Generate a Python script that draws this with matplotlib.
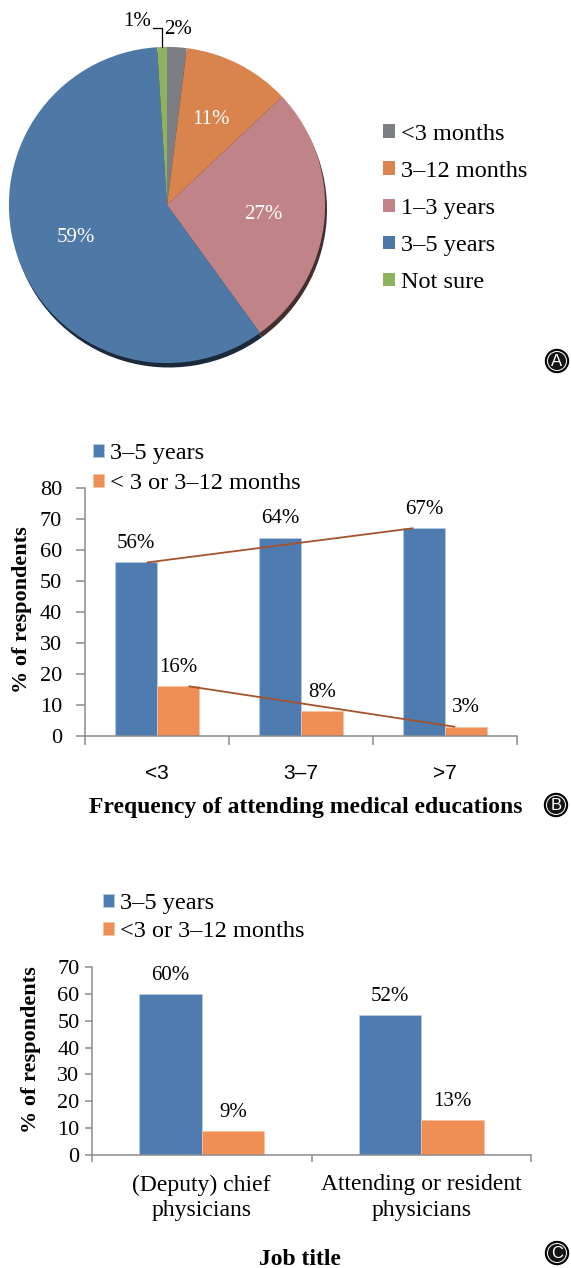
import numpy as np
import matplotlib.pyplot as plt
from matplotlib.patches import Circle

plt.rcParams['font.family'] = ['Liberation Serif', 'DejaVu Serif']

# Panel A: expected duration (share of respondents, %)
duration_labels = ['<3 months', '3–12 months', '1–3 years', '3–5 years', 'Not sure']
duration_share = [2, 11, 27, 59, 1]
duration_colors = ['#7b7e83', '#d9834d', '#c08488', '#4e78a6', '#8fb25e']

# Panel B: by frequency of attending medical educations
freq_categories = ['<3', '3–7', '>7']
freq_long = [56, 64, 67]
freq_short = [16, 8, 3]

# Panel C: by job title
job_categories = ['(Deputy) chief\nphysicians', 'Attending or resident\nphysicians']
job_long = [60, 52]
job_short = [9, 13]

BLUE = '#4e7bb0'
ORANGE = '#ef8f55'
GREY = '#8c8c8c'
TREND = '#a4532c'

W, H = 571, 1268
fig = plt.figure(figsize=(W / 100, H / 100), dpi=100)


def px_axes(left, top, right, bottom):
    return fig.add_axes([left / W, 1 - bottom / H, (right - left) / W, (bottom - top) / H])


# ---- A: pie ----
ax_a = px_axes(1, 39, 333, 371)
dark = [tuple(0.35 * c for c in plt.matplotlib.colors.to_rgb(col)) for col in duration_colors]
ax_a.pie(duration_share, colors=dark, startangle=90, counterclock=False,
         center=(0.012, -0.028), wedgeprops=dict(linewidth=0))
wedges, _ = ax_a.pie(duration_share, colors=duration_colors, startangle=90,
                     counterclock=False, wedgeprops=dict(linewidth=0))
ax_a.set_xlim(-1.05, 1.05)
ax_a.set_ylim(-1.05, 1.05)
ax_a.axis('off')

for wdg, val in zip(wedges, duration_share):
    mid = np.deg2rad((wdg.theta1 + wdg.theta2) / 2)
    if val >= 10:
        r = 0.61
        ax_a.text(r * np.cos(mid), r * np.sin(mid), f'{val}%', color='white',
                  fontsize=15, ha='center', va='center')
    elif val >= 2:
        r = 1.11
        ax_a.text(r * np.cos(mid), r * np.sin(mid), f'{val}%', color='black',
                  fontsize=15, ha='center', va='center')
    else:
        x0, y0 = np.cos(mid), np.sin(mid)
        ax_a.plot([x0, x0, x0 - 0.055], [y0, 1.12, 1.12], color='black', lw=0.9,
                  clip_on=False)
        ax_a.text(x0 - 0.07, 1.16, f'{val}%', color='black', fontsize=15,
                  ha='right', va='center')

ax_a.legend(wedges, duration_labels, loc='upper left',
            bbox_to_anchor=(383 / W, 1 - 124 / H), bbox_transform=fig.transFigure,
            frameon=False, fontsize=17.5, handlelength=0.5, handleheight=0.5,
            handletextpad=0.25, labelspacing=0.66, borderpad=0, borderaxespad=0)


def bar_panel(ax, cats, long_vals, short_vals, width, ymax, short_name,
              xtick_font, tick_len, ypad, xpad):
    x = np.arange(len(cats))
    b1 = ax.bar(x - width / 2, long_vals, width, color=BLUE, edgecolor='#b8cbe4',
                linewidth=0.6, label='3–5 years')
    b2 = ax.bar(x + width / 2, short_vals, width, color=ORANGE, edgecolor='#f6c4a2',
                linewidth=0.6, label=short_name)
    for bars in (b1, b2):
        for rect in bars:
            v = rect.get_height()
            ax.annotate(f'{v:g}%', (rect.get_x() + rect.get_width() / 2, v),
                        xytext=(0, 13.5), textcoords='offset points',
                        ha='center', va='center', fontsize=15)
    for s in ('top', 'right'):
        ax.spines[s].set_visible(False)
    for s in ('left', 'bottom'):
        ax.spines[s].set_color(GREY)
        ax.spines[s].set_linewidth(1.1)
    ax.set_xlim(-0.5, len(cats) - 0.5)
    ax.set_ylim(0, ymax)
    ax.set_yticks(np.arange(0, ymax + 1, 10))
    ax.set_xticks(np.arange(len(cats) + 1) - 0.5)
    ax.set_xticklabels([])
    ax.set_xticks(x, minor=True)
    ax.set_xticklabels(cats, minor=True, **xtick_font)
    ax.tick_params(axis='x', which='major', length=tick_len, color=GREY, width=1.1)
    ax.tick_params(axis='x', which='minor', length=0, pad=xpad)
    ax.tick_params(axis='y', length=tick_len, color=GREY, width=1.1, pad=ypad,
                   labelsize=16)
    return x, b1, b2


# ---- B: frequency of attending medical educations ----
ax_b = px_axes(85, 488, 517, 736)
xb, b1, b2 = bar_panel(ax_b, freq_categories, freq_long, freq_short, 0.29, 80,
                       '< 3 or 3–12 months',
                       dict(fontsize=15, family='Liberation Sans'), 6.5, 10, 20)
w = 0.29
for offs, vals in ((-w / 2, freq_long), (w / 2, freq_short)):
    ax_b.plot([xb[0] + offs + 0.08, xb[-1] + offs - 0.08], [vals[0], vals[-1]],
              color=TREND, lw=1.3)
ax_b.set_ylabel('% of respondents', fontsize=16, fontweight='bold', va='center')
ax_b.yaxis.set_label_coords(-0.145, 0.508)
ax_b.set_xlabel('Frequency of attending medical educations', fontsize=17,
                fontweight='bold', va='center')
ax_b.xaxis.set_label_coords(0.512, -0.29)
ax_b.legend(loc='upper left', bbox_to_anchor=(93 / W, 1 - 443 / H),
            bbox_transform=fig.transFigure, frameon=False, fontsize=17.5,
            handlelength=0.45, handleheight=0.45, handletextpad=0.25,
            labelspacing=0.36, borderpad=0, borderaxespad=0)

# ---- C: job title ----
ax_c = px_axes(92, 967, 531, 1155)
bar_panel(ax_c, job_categories, job_long, job_short, 0.285, 70,
          '<3 or 3–12 months', dict(fontsize=17, linespacing=1.3), 5, 4, 14)
ax_c.set_ylabel('% of respondents', fontsize=16, fontweight='bold', va='center')
ax_c.yaxis.set_label_coords(-0.14, 0.56)
ax_c.set_xlabel('Job title', fontsize=17, fontweight='bold', va='center')
ax_c.xaxis.set_label_coords(0.474, -0.555)
ax_c.legend(loc='upper left', bbox_to_anchor=(103 / W, 1 - 893 / H),
            bbox_transform=fig.transFigure, frameon=False, fontsize=17.5,
            handlelength=0.45, handleheight=0.45, handletextpad=0.25,
            labelspacing=0.28, borderpad=0, borderaxespad=0)

# ---- panel letters ----
ax_o = fig.add_axes([0, 0, 1, 1])
ax_o.set_xlim(0, W)
ax_o.set_ylim(H, 0)
ax_o.axis('off')
for letter, (cx, cy) in zip('ABC', [(557, 361), (556, 805), (557, 1253)]):
    ax_o.add_patch(Circle((cx, cy), 11.5, fc='#151515', ec='black', lw=1))
    ax_o.add_patch(Circle((cx, cy), 9.5, fc='none', ec='white', lw=0.7))
    ax_o.text(cx, cy + 0.5, letter, color='white', fontsize=12, ha='center',
              va='center', family='Liberation Sans')

fig.savefig('out.png', dpi=100)
